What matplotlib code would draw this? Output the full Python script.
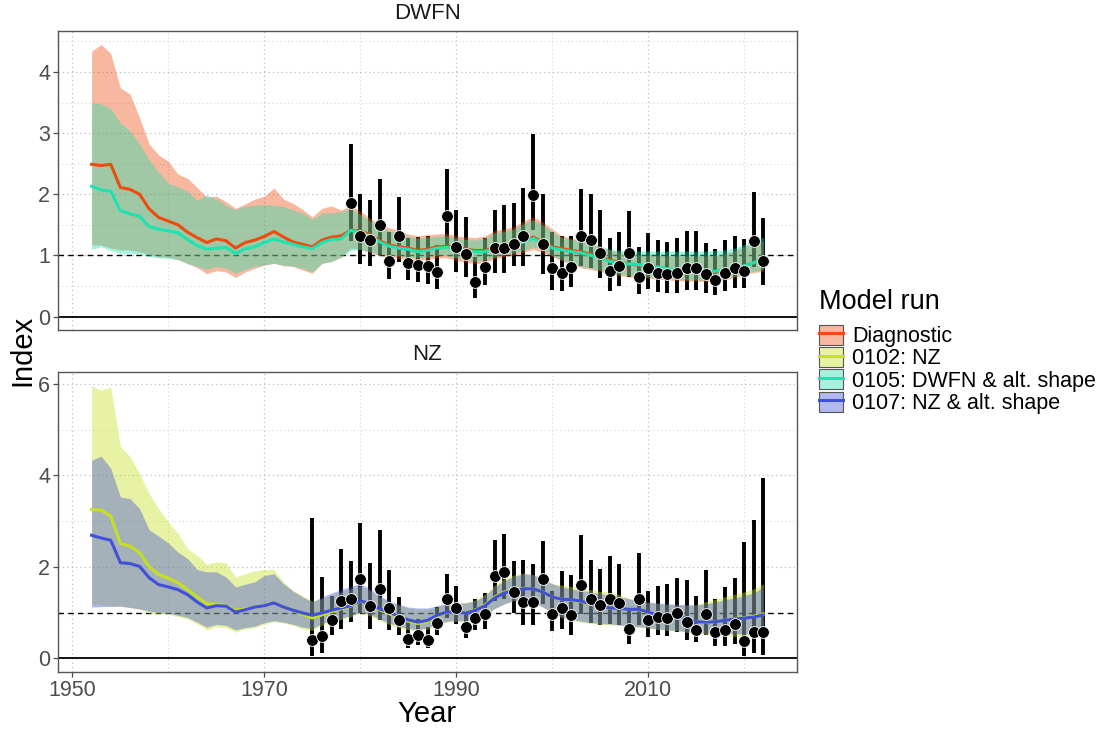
import matplotlib
matplotlib.use("Agg")
import matplotlib.pyplot as plt
from matplotlib.patches import Patch
from matplotlib.lines import Line2D
from matplotlib.colors import to_rgba
from matplotlib.ticker import MultipleLocator, FixedLocator

plt.rcParams['font.family'] = ['Liberation Sans', 'DejaVu Sans']

years = list(range(1952, 2023))

# ---- DWFN panel: model runs "Diagnostic" and "0105" ----
diag_mid = [2.49, 2.47, 2.49, 2.11, 2.08, 2.00, 1.76, 1.62,
            1.56, 1.50, 1.38, 1.29, 1.21, 1.27, 1.24, 1.12, 1.21, 1.25,
            1.31, 1.39, 1.30, 1.22, 1.18, 1.14, 1.25, 1.30, 1.32, 1.41,
            1.40, 1.34, 1.24, 1.17, 1.14, 1.12, 1.08, 1.10, 1.14, 1.15,
            1.14, 1.10, 1.08, 1.08, 1.14, 1.16, 1.19, 1.24, 1.30, 1.22,
            1.14, 1.11, 1.08, 1.06, 1.02, 0.98, 0.92, 0.89, 0.86, 0.84,
            0.81, 0.80, 0.77, 0.76, 0.75, 0.75, 0.73, 0.73, 0.76, 0.79,
            0.83, 0.88, 0.95]
diag_hi = [4.34, 4.45, 4.30, 3.74, 3.64, 3.25, 2.82, 2.64,
           2.54, 2.33, 2.26, 2.11, 1.95, 1.97, 1.88, 1.77, 1.84, 1.92,
           1.97, 2.10, 1.92, 1.85, 1.75, 1.63, 1.77, 1.81, 1.74, 1.82,
           1.72, 1.61, 1.51, 1.45, 1.41, 1.35, 1.32, 1.34, 1.35, 1.36,
           1.32, 1.30, 1.29, 1.32, 1.41, 1.43, 1.47, 1.56, 1.63, 1.55,
           1.43, 1.32, 1.28, 1.25, 1.20, 1.15, 1.09, 1.05, 1.03, 1.01,
           1.00, 1.00, 0.99, 0.99, 0.99, 0.99, 0.99, 1.00, 1.02, 1.08,
           1.14, 1.20, 1.24]
diag_lo = [1.17, 1.17, 1.12, 1.09, 1.09, 1.06, 1.01, 0.98,
           0.97, 0.93, 0.87, 0.80, 0.70, 0.75, 0.73, 0.64, 0.73, 0.79,
           0.84, 0.87, 0.83, 0.82, 0.76, 0.71, 0.87, 0.90, 0.97, 1.12,
           1.10, 1.05, 1.00, 0.97, 0.95, 0.93, 0.92, 0.93, 0.96, 0.96,
           0.92, 0.89, 0.86, 0.89, 0.94, 0.98, 1.01, 1.05, 1.10, 1.05,
           0.98, 0.91, 0.85, 0.80, 0.77, 0.74, 0.69, 0.67, 0.65, 0.64,
           0.63, 0.61, 0.60, 0.59, 0.58, 0.58, 0.57, 0.58, 0.60, 0.64,
           0.68, 0.72, 0.74]

dwfn_alt_mid = [2.13, 2.07, 2.05, 1.73, 1.68, 1.64, 1.47, 1.43,
                1.40, 1.37, 1.26, 1.16, 1.10, 1.12, 1.13, 1.03, 1.11, 1.14,
                1.21, 1.27, 1.22, 1.18, 1.14, 1.11, 1.21, 1.26, 1.27, 1.41,
                1.37, 1.32, 1.22, 1.15, 1.12, 1.10, 1.06, 1.08, 1.12, 1.13,
                1.12, 1.08, 1.06, 1.06, 1.12, 1.14, 1.17, 1.22, 1.28, 1.20,
                1.12, 1.09, 1.06, 1.04, 1.00, 0.96, 0.90, 0.88, 0.86, 0.85,
                0.82, 0.81, 0.78, 0.77, 0.76, 0.76, 0.74, 0.74, 0.77, 0.79,
                0.83, 0.88, 0.96]
dwfn_alt_hi = [3.49, 3.48, 3.40, 3.17, 3.03, 2.83, 2.56, 2.36,
               2.18, 2.12, 2.05, 1.90, 1.99, 1.92, 1.82, 1.75, 1.80, 1.82,
               1.83, 1.82, 1.80, 1.74, 1.69, 1.59, 1.69, 1.70, 1.71, 1.77,
               1.67, 1.57, 1.47, 1.41, 1.37, 1.31, 1.28, 1.30, 1.31, 1.32,
               1.28, 1.26, 1.25, 1.28, 1.37, 1.39, 1.43, 1.52, 1.58, 1.50,
               1.39, 1.29, 1.26, 1.23, 1.19, 1.15, 1.10, 1.08, 1.07, 1.07,
               1.07, 1.07, 1.07, 1.07, 1.07, 1.07, 1.07, 1.08, 1.09, 1.12,
               1.18, 1.23, 1.30]
dwfn_alt_lo = [1.10, 1.14, 1.08, 1.03, 1.04, 1.02, 0.98, 0.96,
               0.95, 0.93, 0.86, 0.82, 0.77, 0.82, 0.79, 0.71, 0.77, 0.82,
               0.85, 0.87, 0.84, 0.82, 0.79, 0.73, 0.87, 0.90, 0.97, 1.08,
               1.10, 1.06, 1.02, 1.01, 0.99, 0.97, 0.96, 0.97, 1.00, 1.00,
               0.96, 0.93, 0.90, 0.93, 0.97, 1.01, 1.04, 1.08, 1.14, 1.09,
               1.00, 0.93, 0.87, 0.82, 0.79, 0.76, 0.71, 0.69, 0.67, 0.66,
               0.65, 0.63, 0.62, 0.61, 0.60, 0.60, 0.59, 0.60, 0.62, 0.66,
               0.70, 0.74, 0.77]

# ---- NZ panel: model runs "0102" and "0107" ----
nz_mid = [3.25, 3.24, 3.11, 2.51, 2.45, 2.31, 2.00, 1.83,
          1.75, 1.65, 1.50, 1.34, 1.19, 1.18, 1.15, 1.05, 1.08, 1.12,
          1.15, 1.21, 1.12, 1.05, 0.96, 0.88, 0.95, 1.02, 1.08, 1.14,
          1.25, 1.18, 1.06, 0.98, 0.88, 0.81, 0.76, 0.80, 0.92, 1.00,
          1.01, 1.00, 1.06, 1.17, 1.34, 1.45, 1.50, 1.53, 1.52, 1.45,
          1.34, 1.29, 1.27, 1.24, 1.18, 1.12, 1.10, 1.09, 1.07, 1.06,
          1.00, 0.93, 0.91, 0.93, 0.86, 0.80, 0.79, 0.80, 0.83, 0.87,
          0.89, 0.92, 0.97]
nz_hi = [5.96, 5.86, 5.93, 4.63, 4.41, 4.04, 3.60, 3.27,
         2.98, 2.73, 2.40, 2.25, 2.05, 2.11, 2.08, 1.78, 1.85, 1.91,
         1.94, 1.94, 1.67, 1.48, 1.37, 1.25, 1.30, 1.38, 1.45, 1.52,
         1.58, 1.48, 1.34, 1.24, 1.16, 1.10, 1.07, 1.07, 1.12, 1.18,
         1.20, 1.22, 1.28, 1.40, 1.60, 1.75, 1.82, 1.86, 1.83, 1.73,
         1.63, 1.60, 1.57, 1.53, 1.50, 1.46, 1.44, 1.39, 1.31, 1.26,
         1.22, 1.20, 1.18, 1.17, 1.16, 1.17, 1.24, 1.29, 1.35, 1.40,
         1.45, 1.52, 1.63]
nz_lo = [1.18, 1.17, 1.15, 1.14, 1.11, 1.07, 0.99, 0.97,
         0.96, 0.91, 0.86, 0.75, 0.62, 0.69, 0.67, 0.57, 0.64, 0.67,
         0.75, 0.80, 0.77, 0.72, 0.64, 0.61, 0.72, 0.79, 0.85, 0.90,
         0.99, 0.93, 0.83, 0.74, 0.67, 0.62, 0.61, 0.64, 0.72, 0.79,
         0.81, 0.81, 0.86, 0.94, 1.08, 1.19, 1.26, 1.29, 1.24, 1.13,
         1.00, 0.89, 0.83, 0.79, 0.76, 0.74, 0.73, 0.72, 0.69, 0.68,
         0.66, 0.63, 0.61, 0.60, 0.57, 0.54, 0.52, 0.50, 0.49, 0.48,
         0.47, 0.46, 0.46]

nz_alt_mid = [2.69, 2.63, 2.58, 2.09, 2.07, 2.01, 1.76, 1.61,
              1.56, 1.50, 1.39, 1.23, 1.10, 1.15, 1.14, 1.01, 1.06, 1.12,
              1.15, 1.21, 1.12, 1.05, 0.99, 0.94, 0.99, 1.05, 1.10, 1.15,
              1.26, 1.19, 1.08, 1.01, 0.91, 0.84, 0.79, 0.83, 0.94, 1.01,
              1.01, 0.99, 1.05, 1.15, 1.32, 1.43, 1.48, 1.52, 1.52, 1.45,
              1.34, 1.29, 1.28, 1.25, 1.19, 1.13, 1.10, 1.09, 1.07, 1.07,
              1.01, 0.94, 0.92, 0.94, 0.86, 0.80, 0.79, 0.80, 0.83, 0.86,
              0.88, 0.90, 0.95]
nz_alt_hi = [4.33, 4.42, 4.15, 3.53, 3.49, 3.27, 2.81, 2.67,
             2.52, 2.32, 2.18, 1.94, 1.89, 1.89, 1.78, 1.56, 1.62, 1.67,
             1.81, 1.85, 1.63, 1.47, 1.34, 1.23, 1.34, 1.43, 1.50, 1.57,
             1.63, 1.52, 1.37, 1.26, 1.18, 1.12, 1.10, 1.10, 1.15, 1.21,
             1.21, 1.21, 1.26, 1.37, 1.56, 1.70, 1.79, 1.85, 1.83, 1.74,
             1.63, 1.56, 1.52, 1.48, 1.45, 1.41, 1.39, 1.35, 1.30, 1.26,
             1.23, 1.21, 1.19, 1.18, 1.17, 1.17, 1.19, 1.23, 1.28, 1.32,
             1.37, 1.43, 1.56]
nz_alt_lo = [1.12, 1.13, 1.13, 1.14, 1.11, 1.08, 1.03, 1.00,
             0.98, 0.94, 0.89, 0.79, 0.68, 0.74, 0.72, 0.62, 0.67, 0.70,
             0.78, 0.82, 0.79, 0.74, 0.68, 0.65, 0.76, 0.83, 0.88, 0.93,
             1.01, 0.96, 0.86, 0.77, 0.70, 0.65, 0.63, 0.66, 0.74, 0.81,
             0.82, 0.82, 0.87, 0.95, 1.09, 1.19, 1.26, 1.28, 1.22, 1.12,
             1.00, 0.90, 0.85, 0.81, 0.78, 0.76, 0.75, 0.73, 0.70, 0.69,
             0.67, 0.64, 0.62, 0.61, 0.58, 0.56, 0.55, 0.54, 0.54, 0.54,
             0.53, 0.53, 0.54]

# ---- observed indices with intervals ----
dwfn_years = list(range(1979, 2023))
dwfn_obs = [1.86, 1.32, 1.25, 1.50, 0.91, 1.32, 0.88, 0.85, 0.83, 0.73,
            1.65, 1.13, 1.03, 0.56, 0.81, 1.12, 1.12, 1.19, 1.31, 1.99,
            1.19, 0.79, 0.72, 0.81, 1.32, 1.26, 1.04, 0.74, 0.83, 1.04,
            0.64, 0.79, 0.72, 0.70, 0.72, 0.79, 0.79, 0.69, 0.59, 0.72,
            0.80, 0.74, 1.24, 0.91]
dwfn_obs_hi = [2.83, 2.00, 1.90, 2.25, 1.38, 1.96, 1.29, 1.30, 1.31, 1.17,
               2.42, 1.74, 1.62, 0.98, 1.28, 1.74, 1.82, 1.86, 2.10, 2.99,
               2.01, 1.39, 1.32, 1.32, 2.08, 2.01, 1.74, 1.28, 1.38, 1.73,
               1.13, 1.36, 1.26, 1.22, 1.29, 1.40, 1.40, 1.20, 1.10, 1.25,
               1.32, 1.27, 2.03, 1.61]
dwfn_obs_lo = [1.24, 0.86, 0.82, 1.00, 0.61, 0.90, 0.59, 0.56, 0.53, 0.45,
               1.17, 0.73, 0.65, 0.31, 0.51, 0.72, 0.71, 0.82, 0.82, 1.41,
               0.70, 0.44, 0.41, 0.49, 0.83, 0.79, 0.63, 0.42, 0.50, 0.64,
               0.37, 0.45, 0.40, 0.38, 0.39, 0.44, 0.44, 0.38, 0.35, 0.42,
               0.47, 0.46, 0.81, 0.51]

nz_years = list(range(1975, 2023))
nz_obs = [0.39, 0.48, 0.84, 1.25, 1.30, 1.73, 1.14, 1.52, 1.09, 0.83,
          0.42, 0.52, 0.41, 0.77, 1.29, 1.09, 0.69, 0.88, 0.96, 1.81,
          1.88, 1.44, 1.23, 1.22, 1.74, 0.96, 1.10, 0.94, 1.60, 1.29,
          1.17, 1.29, 1.21, 0.64, 1.29, 0.83, 0.90, 0.88, 0.99, 0.80,
          0.62, 0.97, 0.57, 0.61, 0.74, 0.37, 0.57, 0.57]
nz_obs_hi = [3.06, 1.78, 1.37, 2.40, 2.12, 2.95, 2.08, 2.80, 1.92, 1.34,
             0.79, 0.86, 0.68, 1.12, 1.85, 1.57, 0.99, 1.30, 1.43, 2.58,
             2.71, 2.12, 2.14, 2.07, 2.57, 1.48, 1.90, 1.83, 2.69, 2.16,
             1.96, 2.24, 2.07, 1.08, 2.30, 1.48, 1.58, 1.63, 1.76, 1.72,
             1.37, 1.94, 1.30, 1.56, 1.75, 2.54, 3.02, 3.94]
nz_obs_lo = [0.06, 0.12, 0.50, 0.64, 0.79, 0.99, 0.63, 0.83, 0.62, 0.50,
             0.23, 0.29, 0.22, 0.50, 0.88, 0.74, 0.45, 0.61, 0.64, 1.25,
             1.30, 0.99, 0.72, 0.72, 1.19, 0.59, 0.63, 0.50, 0.97, 0.77,
             0.72, 0.74, 0.72, 0.31, 0.73, 0.46, 0.52, 0.48, 0.57, 0.39,
             0.35, 0.50, 0.26, 0.26, 0.31, 0.06, 0.11, 0.08]

run_labels = ["Diagnostic", "0102: NZ", "0105: DWFN & alt. shape", "0107: NZ & alt. shape"]
run_colors = ["#EE4B0F", "#C6E020", "#1EE2B0", "#4050D8"]
fill_alpha = 0.4

x_major = [1950, 1970, 1990, 2010]
x_minor = [1960, 1980, 2000, 2020]

fig = plt.figure(figsize=(11.13, 7.3), dpi=100)
ax1 = fig.add_axes([58 / 1113, 400 / 730, 739 / 1113, 299 / 730])
ax2 = fig.add_axes([58 / 1113, 58 / 730, 739 / 1113, 300 / 730])

panels = [
    (ax1, "DWFN", [(0, diag_mid, diag_lo, diag_hi), (2, dwfn_alt_mid, dwfn_alt_lo, dwfn_alt_hi)],
     dwfn_years, dwfn_obs, dwfn_obs_lo, dwfn_obs_hi, (-0.22, 4.67), 1),
    (ax2, "NZ", [(1, nz_mid, nz_lo, nz_hi), (3, nz_alt_mid, nz_alt_lo, nz_alt_hi)],
     nz_years, nz_obs, nz_obs_lo, nz_obs_hi, (-0.3, 6.26), 2),
]

for ax, title, runs, oy, ob, olo, ohi, ylim, ystep in panels:
    ax.set_xlim(1948.5, 2025.5)
    ax.set_ylim(*ylim)
    ax.xaxis.set_major_locator(FixedLocator(x_major))
    ax.xaxis.set_minor_locator(FixedLocator(x_minor))
    ax.yaxis.set_major_locator(MultipleLocator(ystep))
    ax.yaxis.set_minor_locator(MultipleLocator(ystep / 2))
    ax.grid(which='major', ls=(0, (1, 2.5)), color='#BDBDBD', lw=0.9)
    ax.grid(which='minor', ls=(0, (1, 2.5)), color='#D6D6D6', lw=0.8)
    ax.set_axisbelow(True)
    for s in ax.spines.values():
        s.set_color('#555555')
        s.set_linewidth(1.0)
    ax.tick_params(which='both', colors='#4D4D4D', labelsize=15.5, length=3.5, width=0.9, pad=2)
    ax.tick_params(which='minor', length=0)

    ax.axhline(0, color='black', lw=1.3, zorder=1)
    ax.axhline(1, color='black', lw=1.0, ls=(0, (4, 3)), zorder=1)

    ax.vlines(oy, olo, ohi, color='black', lw=2.8, zorder=2)
    for idx, mid, lo, hi in runs:
        ax.fill_between(years, lo, hi, color=run_colors[idx], alpha=fill_alpha, lw=0, zorder=3)
    for idx, mid, lo, hi in runs:
        ax.plot(years, mid, color=run_colors[idx], lw=2.2, zorder=4)
    ax.scatter(oy, ob, s=72, color='black', edgecolors='white', linewidths=0.6, zorder=5)

    ax.text(0.5, 1.022, title, transform=ax.transAxes, ha='center', va='bottom',
            fontsize=16, color='#1A1A1A')

ax1.tick_params(axis='x', which='both', length=0, labelbottom=False)

fig.text(22 / 1113, 1 - 350 / 730, "Index", rotation=90, ha='center', va='center', fontsize=21)
fig.text(427 / 1113, 1 - 714 / 730, "Year", ha='center', va='center', fontsize=21)

handles = [(Patch(facecolor=to_rgba(c, fill_alpha), edgecolor='#555555', lw=0.8),
            Line2D([], [], color=c, lw=2.2)) for c in run_colors]
leg = fig.legend(handles, run_labels, loc='upper left', bbox_to_anchor=(819 / 1113, 1 - 289 / 730),
                 frameon=False, title="Model run", title_fontsize=19.5, fontsize=15.5,
                 handlelength=1.1, handleheight=1.05, labelspacing=0.0, handletextpad=0.45,
                 borderpad=0, borderaxespad=0, alignment='left')
leg._legend_box.sep = 7

fig.savefig("out.png", dpi=100)
